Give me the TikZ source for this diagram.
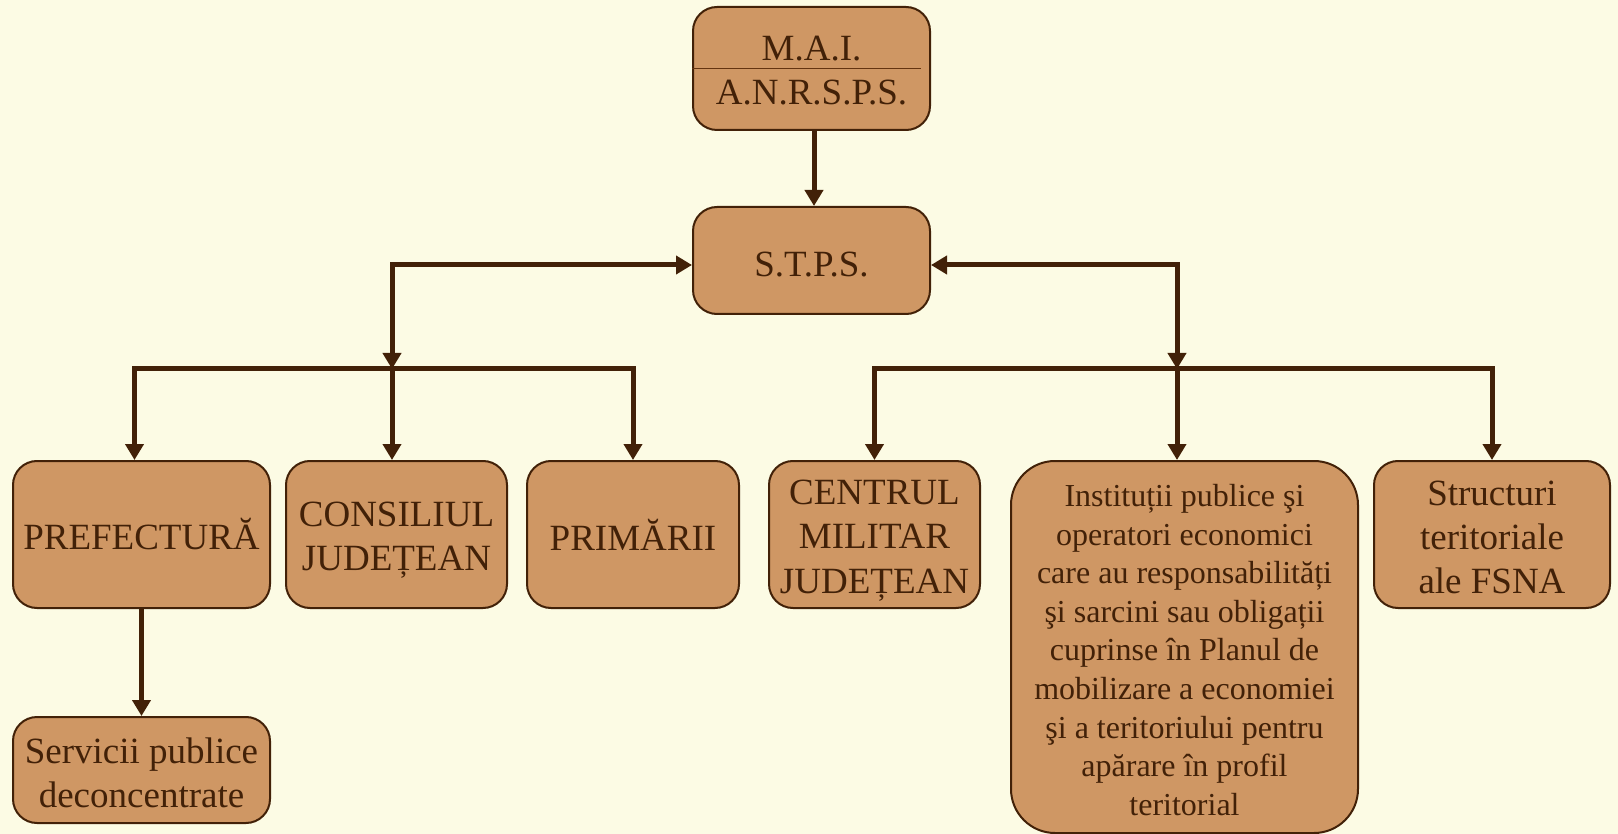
\documentclass[tikz,border=0pt]{standalone}
\usepackage{fontspec}
\setmainfont{Liberation Serif}
\usetikzlibrary{arrows.meta}
\definecolor{bgcream}{RGB}{252,251,228}
\definecolor{boxtan}{RGB}{207,151,100}
\definecolor{darkbrown}{RGB}{66,33,8}
\definecolor{midbrown}{RGB}{100,52,16}

\begin{document}
\begin{tikzpicture}[x=0.5pt,y=-0.5pt,
  box/.style={draw=darkbrown,line width=1pt,fill=boxtan,rounded corners=12pt,inner sep=0pt},
  boxtext/.style={text=darkbrown,align=center,inner sep=0pt,yshift=-1.5pt,
    font=\fontsize{18.5}{22.2}\selectfont},
  link/.style={draw=darkbrown,line width=2.5pt,-{Triangle[width=9pt,length=8pt]}},
  dlink/.style={link,{Triangle[width=9pt,length=8pt]}-{Triangle[width=9pt,length=8pt]}}]
  \fill[bgcream] (0,0) rectangle (1618,834);
  \useasboundingbox (0,0) rectangle (1618,834);

  \node[box,minimum width=118.5pt,minimum height=61.5pt,
    label={[boxtext,yshift=0.5pt]center:{M.A.I.\\A.N.R.S.P.S.}}] (mai) at (811.5,68.5) {};
  \draw[midbrown,line width=0.75pt] (mai.west) -- ([xshift=-5pt]mai.east);
  \node[box,minimum width=118.5pt,minimum height=53.5pt,
    label={[boxtext,yshift=-0.5pt]center:{S.T.P.S.}}] (stps) at (811.5,260.5) {};

  \node[box,minimum width=128.5pt,minimum height=73.5pt,
    label={[boxtext,yshift=1.5pt]center:{PREFECTURĂ}}] (pref) at (141.5,534.5) {};
  \node[box,minimum width=110.5pt,minimum height=73.5pt,
    label={[boxtext,yshift=-1.3pt]center:{CONSILIUL\\JUDEȚEAN}}] (cons) at (396.5,534.5) {};
  \node[box,minimum width=106pt,minimum height=73.5pt,
    label={[boxtext,yshift=1.5pt]center:{PRIMĂRII}}] (prim) at (633,534.5) {};
  \node[box,minimum width=105.5pt,minimum height=73.5pt,
    label={[boxtext,yshift=-1.5pt]center:{CENTRUL\\MILITAR\\JUDEȚEAN}}] (cent) at (874.5,534.5) {};
  \node[box,minimum width=173.5pt,minimum height=186pt,rounded corners=22pt,
    label={[boxtext,font=\fontsize{16}{19.3}\selectfont]center:{Instituții publice şi\\operatori economici\\care au responsabilități\\şi sarcini sau obligații\\cuprinse în Planul de\\mobilizare a economiei\\şi a teritoriului pentru\\apărare în profil\\teritorial}}] (inst) at (1184.5,647) {};
  \node[box,minimum width=118pt,minimum height=73.5pt,
    label={[boxtext]center:{Structuri\\teritoriale\\ale FSNA}}] (struc) at (1492,534.5) {};
  \node[box,minimum width=128.5pt,minimum height=53pt,
    label={[boxtext]center:{Servicii publice\\deconcentrate}}] (serv) at (141.5,770) {};

  \coordinate (bl) at (392,369);
  \coordinate (br) at (1177,369);

  \draw[link] ([xshift=1.25pt]mai.south) -- ([xshift=1.25pt]stps.north);
  \draw[dlink] (bl) |- ([yshift=-2.25pt]stps.west);
  \draw[dlink] (br) |- ([yshift=-2.25pt]stps.east);

  \draw[link] (bl) -| ([xshift=-3.5pt]pref.north);
  \draw[link] (bl) -- (bl |- cons.north);
  \draw[link] (bl) -| (prim);

  \draw[link] (br) -| (cent);
  \draw[link] (br) -- (br |- inst.north);
  \draw[link] (br) -| (struc);

  \draw[link] (pref) -- (serv);
\end{tikzpicture}
\end{document}
